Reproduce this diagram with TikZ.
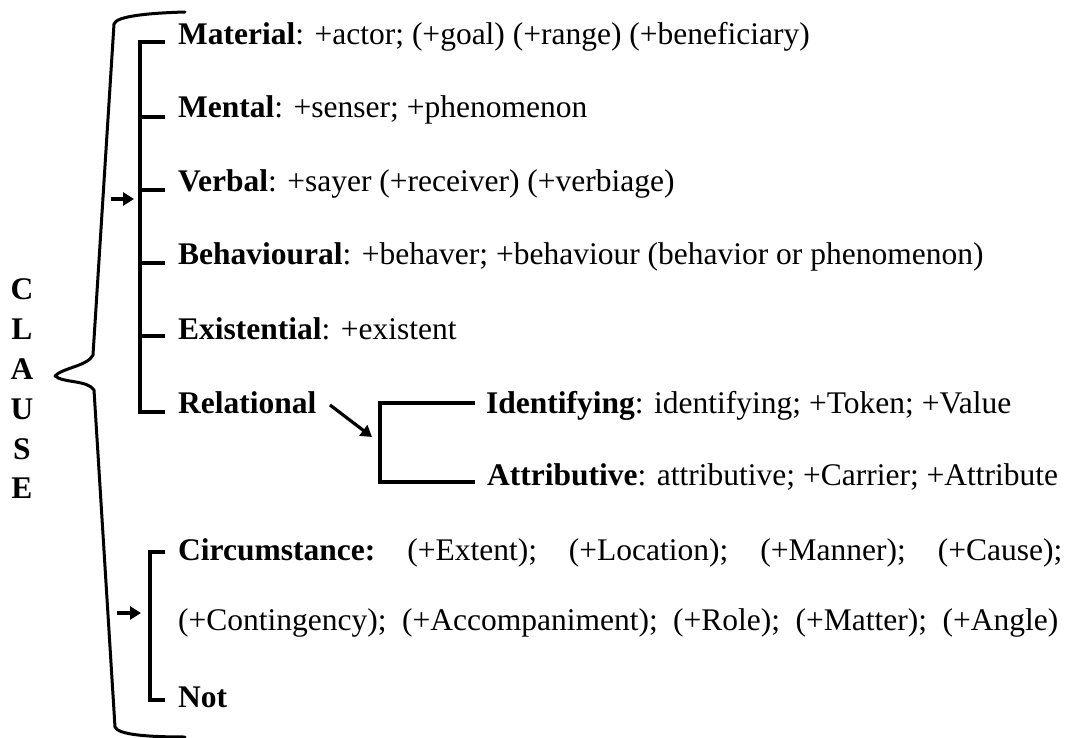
\documentclass[tikz,border=0pt]{standalone}
\usepackage{fontspec}
\setmainfont{Liberation Serif}
\usetikzlibrary{arrows.meta,calc}
\begin{document}
\begin{tikzpicture}[x=1pt,y=-1pt,
  lab/.style={anchor=base west, inner sep=0pt, font=\fontsize{31.5}{36}\selectfont},
  letter/.style={anchor=base, inner sep=0pt, font=\fontsize{31.5}{36}\selectfont\bfseries},
  ln/.style={line width=3.8pt},
  brace/.style={line width=3pt, line cap=round, line join=round},
  arr/.style={line width=3.2pt, -{Triangle[length=11pt,width=13pt]}}]
\useasboundingbox (0,0) rectangle (1072,738);
% CLAUSE
\node[letter] (lC) at (22,300) {C};
\node[letter] (lL) at (22,340) {L};
\node[letter] (lA) at (22,379) {A};
\node[letter] (lU) at (22,419) {U};
\node[letter] (lS) at (22,459) {S};
\node[letter] (lE) at (22,498) {E};
% big brace
\draw[brace] (185,12) .. controls (150,13) and (116,16) .. (114,24)
  -- (93,355) .. controls (88,366) and (62,368) .. (55,376)
  .. controls (63,383) and (88,380) .. (94,390)
  -- (115,727) .. controls (118,735) and (150,737) .. (185,737);
% process types
\node[lab] (mat) at (178,45) {\textbf{Material}: +actor; (+goal) (+range) (+beneficiary)};
\node[lab] (men) at (178,118) {\textbf{Mental}: +senser; +phenomenon};
\node[lab] (ver) at (178,192) {\textbf{Verbal}: +sayer (+receiver) (+verbiage)};
\node[lab] (beh) at (178,265) {\textbf{Behavioural}: +behaver; +behaviour (behavior or phenomenon)};
\node[lab] (exi) at (178,340) {\textbf{Existential}: +existent};
\node[lab] (rel) at (178,413) {\textbf{Relational}};
\node[lab] (ide) at (486,413) {\textbf{Identifying}: identifying; +Token; +Value};
\node[lab] (att) at (487,485) {\textbf{Attributive}: attributive; +Carrier; +Attribute};
\node[lab] (cir) at (178,560) {\hbox to 884pt{\textbf{Circumstance:}\hfill(+Extent);\hfill(+Location);\hfill(+Manner);\hfill(+Cause);}};
\node[lab] (con) at (178,630) {\hbox to 880pt{(+Contingency);\hfill(+Accompaniment);\hfill(+Role);\hfill(+Matter);\hfill(+Angle)}};
\node[lab] (not) at (178,707) {\textbf{Not}};
% bracket 1
\coordinate (b1) at (140,42);
\coordinate (b6) at (140,412);
\draw[ln] ($(mat.base west)+(-13,-3)$) -- (b1) -- (b6) -- ($(rel.base west)+(-13,-1)$);
\draw[ln] (140,117) -- ($(men.base west)+(-13,-1)$);
\draw[ln] (140,190) -- ($(ver.base west)+(-13,-2)$);
\draw[ln] (140,263) -- ($(beh.base west)+(-13,-2)$);
\draw[ln] (140,336) -- ($(exi.base west)+(-13,-4)$);
\coordinate (a1s) at (111,199);
\coordinate (a1e) at (134,199);
\draw[arr] (a1s) -- (a1e);
% relational bracket
\coordinate (ra) at (330,405);
\coordinate (rb) at (372,437);
\draw[arr] (ra) -- (rb);
\draw[ln] ($(ide.base west)+(-11,-10)$) -| (380,482) -- ($(att.base west)+(-12,-3)$);
% circumstance bracket
\draw[ln] ($(cir.base west)+(-13,-8)$) -| (150,700) -- ($(not.base west)+(-13,-7)$);
\coordinate (a2s) at (117,613);
\coordinate (a2e) at (141,613);
\draw[arr] (a2s) -- (a2e);
\end{tikzpicture}
\end{document}
